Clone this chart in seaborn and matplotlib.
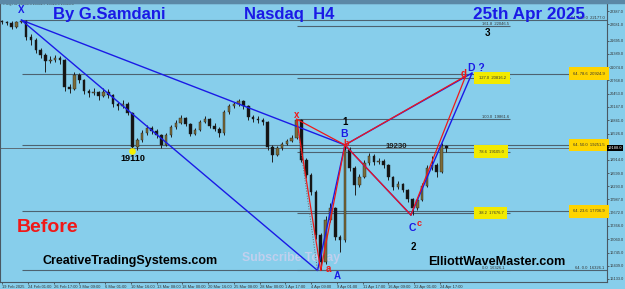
import numpy as np
import pandas as pd
import matplotlib
matplotlib.use("Agg")
import matplotlib.pyplot as plt
from matplotlib.patches import Rectangle
import seaborn as sns

# ---------------- data ----------------
bar_step = 3          # one drawn candle every 3 H4 bars
first_open = 22150
closes = [22130, 22110, 22014, 22120, 22150, 21781, 21711, 21477, 21360, 21220,
          21243, 21290, 21243, 20613, 20566, 20893, 20776, 20519, 20472, 20496,
          20402, 20496, 20426, 20215, 20169, 20215, 20005, 19211, 19374, 19538,
          19655, 19585, 19491, 19258, 19491, 19678, 19772, 19888, 19748, 19515,
          19608, 19795, 19865, 19702, 19631, 19538, 20029, 20169, 20215, 20286,
          20169, 19912, 19865, 19842, 19795, 19211, 19024, 19188, 19281, 19351,
          19421, 19842, 18907, 18557, 18160, 17155, 16525, 17506, 17786, 17109,
          17038, 19141, 18720, 18323, 18510, 18837, 19001, 18861, 18884, 18790,
          18510, 18277, 18347, 18206, 17996, 17786, 17973, 18300, 18720, 18790,
          18627, 19234, 19188]
highs = [22170, 22160, 22150, 22165, 22177, 22170, 21850, 21760, 21520, 21400,
         21330, 21360, 21340, 21260, 20680, 20960, 20950, 20800, 20560, 20580,
         20530, 20600, 20560, 20450, 20260, 20300, 20260, 20020, 19420, 19600,
         19720, 19700, 19620, 19520, 19540, 19720, 19840, 19950, 19920, 19780,
         19660, 19850, 19940, 19900, 19760, 19680, 20080, 20220, 20270, 20330,
         20300, 20190, 19960, 19930, 19880, 19820, 19260, 19240, 19330, 19400,
         19500, 19862, 19860, 18950, 18600, 18200, 17200, 17600, 17900, 17820,
         17150, 19258, 19200, 18760, 18580, 18900, 19080, 19040, 18960, 18920,
         18820, 18540, 18420, 18380, 18240, 18020, 18030, 18360, 18800, 18990,
         18830, 19300, 19260]
lows = [22090, 22060, 21960, 21990, 22100, 21700, 21600, 21400, 21300, 20970,
        21180, 21200, 21150, 20520, 20480, 20540, 20700, 20440, 20380, 20420,
        20300, 20380, 20350, 20150, 20080, 20120, 19950, 19110, 19150, 19330,
        19500, 19520, 19420, 19180, 19230, 19450, 19640, 19740, 19700, 19460,
        19480, 19580, 19760, 19650, 19580, 19450, 19500, 19990, 20130, 20180,
        20110, 19850, 19800, 19780, 19720, 19150, 18870, 18990, 19150, 19250,
        19320, 19400, 18850, 18480, 18080, 17050, 16326, 16480, 17450, 17040,
        16750, 17000, 18650, 18100, 18280, 18480, 18800, 18800, 18820, 18720,
        18450, 18200, 18240, 18150, 17930, 17622, 17750, 17940, 18270, 18680,
        18510, 18600, 19100]

x_tick_labels = ["19 Feb 2025", "24 Feb 01:00", "26 Feb 17:00", "3 Mar 09:00",
                 "6 Mar 01:00", "10 Mar 16:00", "13 Mar 08:00", "18 Mar 00:00",
                 "20 Mar 16:00", "25 Mar 08:00", "28 Mar 00:00", "1 Apr 17:00",
                 "4 Apr 09:00", "9 Apr 01:00", "11 Apr 17:00", "16 Apr 09:00",
                 "22 Apr 01:00", "24 Apr 17:00"]
bars_per_label = 16
y_tick_values = [22387, 22081, 21695, 21389, 21074, 20768, 20453, 20147, 19841,
                 19526, 18914, 18599, 18293, 17987, 17672, 17366, 17060, 16745,
                 16439, 16133]

# harmonic pattern points (bar index, price)
blue_names = ["X", "A", "B", "C", "D"]
blue_bars = [12, 196, 213, 254, 292]
blue_prices = [22177.0, 16326.1, 19258, 17622, 20939]
red_names = ["x", "a", "b", "c", "d"]
red_bars = [183, 198, 213, 254, 288]
red_prices = [19861.6, 16326.1, 19258, 17622, 20869]

left_fib_ratios = [0.0, 38.2, 78.6, 100.0, 127.0, 161.8]
left_fib_marked = [False, True, True, False, True, False]
right_fib_ratios = [0.0, 23.6, 50.0, 78.6, 100.0]
right_fib_marked = [False, True, True, True, False]

swing_low_label = "19110"
swing_low_bar, swing_low_price = 81, 19110
level_label = "19230"
level_bar, level_price = 245, 19230

# ---------------- style ----------------
sns.set_theme(style="white")
plt.rcParams["font.family"] = ["Liberation Sans", "DejaVu Sans"]
SKY = "#87ceeb"
BLUE = "#1a1ae6"
RED = "#f01818"
LINE = "#4d6270"

W, H = 625, 289
X_END = 375.8
fig = plt.figure(figsize=(W / 100, H / 100), dpi=100, facecolor=SKY)
ax = fig.add_axes([0, 1 - 282 / H, 607 / W, 279 / H], facecolor=SKY)
ax.set_xlim(-1.24, X_END)
ax.set_ylim(16057, 22575)
PT = 0.72  # points per pixel

fig.patches.append(Rectangle((0, 1 - 2.5 / H), 1, 2.5 / H, transform=fig.transFigure,
                             color="#5b88a6", zorder=0))

# ---------------- candles ----------------
c = np.array(closes, float)
o = np.array([first_open] + closes[:-1], float)
hi = np.array(highs, float)
lo = np.array(lows, float)
bars = np.arange(len(c)) * bar_step
up = c >= o
ax.vlines(bars, lo, hi, colors="#1e1e1e", lw=0.7, zorder=3)
body_lo = np.minimum(o, c)
body_h = np.maximum(np.abs(c - o), 12)
ax.bar(bars, body_h, bottom=body_lo, width=1.6,
       color=np.where(up, "#7d6c38", "#141414"), edgecolor="#1e1e1e",
       linewidth=0.3, zorder=4)

# ---------------- fib levels ----------------
def fib_levels(lo_p, hi_p, ratios):
    return [lo_p + r / 100.0 * (hi_p - lo_p) for r in ratios]

left_levels = fib_levels(red_prices[1], red_prices[0], left_fib_ratios)
right_levels = fib_levels(blue_prices[1], blue_prices[0], right_fib_ratios)

for r, p, m in zip(left_fib_ratios, left_levels, left_fib_marked):
    ax.hlines(p, 183, 315.5, color=LINE, lw=0.8, zorder=2)
    txt = f"{r:.1f}  {p:.1f}"
    if m:
        ax.text(296, p, txt, fontsize=3.0, color="#333", ha="left", va="center", zorder=6,
                bbox=dict(boxstyle="square,pad=1.0", fc="#f2ea00", ec="none"))
    else:
        ax.text(298, p, txt, fontsize=3.0, color="#333", ha="left", va="bottom", zorder=6)

for r, p, m in zip(right_fib_ratios, right_levels, right_fib_marked):
    ax.hlines(p, 12.4, X_END, color=LINE, lw=0.8, zorder=2)
    txt = f"64. {r:.1f}  {p:.1f}"
    if m:
        ax.text(X_END - 1.5, p, txt, fontsize=3.0, color="#333", ha="right", va="center",
                zorder=6, bbox=dict(boxstyle="square,pad=1.0", fc="#ffd400", ec="none"))
    else:
        ax.text(X_END - 1.5, p, txt, fontsize=3.0, color="#333", ha="right", va="bottom",
                zorder=6)

# bid line + price label
last = closes[-1]
ax.axhline(last, color="#5d6b75", lw=0.7, zorder=2)
ax.annotate(f"{last:.1f}", xy=(1, last), xycoords=("axes fraction", "data"),
            xytext=(0.8, 0), textcoords="offset points", ha="left", va="center",
            fontsize=2.9, color="white", annotation_clip=False, zorder=8,
            bbox=dict(boxstyle="square,pad=0.2", fc="black", ec="none"))

# ---------------- pattern lines ----------------
def segments(bars_, prices_, pairs):
    rows = []
    for s, (i, j) in enumerate(pairs):
        rows.append((s, 0, bars_[i], prices_[i]))
        rows.append((s, 1, bars_[j], prices_[j]))
    return pd.DataFrame(rows, columns=["seg", "k", "bar", "price"])

pairs = [(0, 1), (1, 2), (2, 3), (3, 4), (0, 2), (2, 4)]
sns.lineplot(data=segments(blue_bars, blue_prices, pairs), x="bar", y="price",
             units="seg", estimator=None, sort=False, color=BLUE, lw=1.0, ax=ax, zorder=5)
sns.lineplot(data=segments(red_bars, red_prices, pairs), x="bar", y="price",
             units="seg", estimator=None, sort=False, color=RED, lw=0.9, ax=ax, zorder=6)
ax.plot([red_bars[0], blue_bars[1]], [red_prices[0], blue_prices[1]], ls=":",
        color="#666", lw=0.7, zorder=5)
ax.set_xlabel("")
ax.set_ylabel("")

# ---------------- labels on points ----------------
def note(text, bx, py, dx, dy, color, size, weight="bold"):
    ax.annotate(text, (bx, py), xytext=(dx * PT, dy * PT), textcoords="offset points",
                ha="center", va="center", color=color, fontsize=size,
                fontweight=weight, zorder=9, annotation_clip=False)

note("X", blue_bars[0], blue_prices[0], 0, 10, BLUE, 7)
note("A", blue_bars[1], blue_prices[1], 20, -6, BLUE, 7)
note("B", blue_bars[2], blue_prices[2], -1, 11, BLUE, 7.5)
note("C", blue_bars[3], blue_prices[3], 1, -13, BLUE, 7.5)
note("D ?", blue_bars[4], blue_prices[4], 4, 5, BLUE, 7.5)
note("x", red_bars[0], red_prices[0], 0, 4, RED, 7)
note("a", red_bars[1], red_prices[1], 8, 1, RED, 7)
note("b", red_bars[2], red_prices[2], 1, 1, RED, 6.5)
note("c", red_bars[3], red_prices[3], 8, -8, RED, 6.5)
note("d", red_bars[4], red_prices[4], -2, 2, RED, 7)
note("1", blue_bars[2], blue_prices[2], 0, 23, "black", 7)
note("2", blue_bars[3], blue_prices[3], 2, -32, "black", 7)
note("3", blue_bars[4], blue_prices[4], 15, 40, "black", 7)

ax.scatter([swing_low_bar], [swing_low_price], s=14, color="#f5f000", zorder=9)
note(swing_low_label, swing_low_bar, swing_low_price, 0, -7, "black", 6.5)
ax.text(level_bar, level_price, level_label, fontsize=5.6, fontweight="bold",
        color="#222", ha="center", va="center", zorder=9)

# ---------------- axes ----------------
ax.yaxis.tick_right()
ax.set_yticks(y_tick_values)
ax.set_yticklabels([f"{v:.1f}" for v in y_tick_values])
ax.set_xticks(np.arange(len(x_tick_labels)) * bars_per_label)
ax.set_xticklabels(x_tick_labels)
for t in ax.get_xticklabels():
    t.set_ha("left")
ax.tick_params(axis="y", right=True, left=False, labelsize=2.8, length=1.5, pad=0.6,
               colors="#333", width=0.5)
ax.tick_params(axis="x", bottom=True, labelsize=2.9, length=1.5, pad=0.6,
               colors="#333", width=0.5)
for s in ax.spines.values():
    s.set_color("#4a5863")
    s.set_linewidth(0.8)

# ---------------- titles and captions ----------------
def ftext(s, px, py, size, color, z=10, alpha=1.0):
    ax.text(px / W, 1 - py / H, s, transform=fig.transFigure, fontsize=size,
            fontweight="bold", color=color, ha="center", va="center", zorder=z, alpha=alpha)

ax.text(3 / W, 1 - 4.5 / H, "▾ NQ,H4  19530.5 19591.7 19520.9 19563.8",
        transform=fig.transFigure, fontsize=2.6, color="#333", ha="left", va="center")
ftext("By G.Samdani", 109, 15, 12, BLUE)
ftext("Nasdaq  H4", 289.5, 15, 12, BLUE)
ftext("25th Apr 2025", 529, 14.5, 12.3, BLUE)
ftext("Before", 48, 228, 14, RED)
ftext("CreativeTradingSystems.com", 130, 261, 9, "black")
ftext("ElliottWaveMaster.com", 497, 262, 9.1, "black")
ftext("Subscribe Today", 291, 257.5, 8.8, "#cfd0ee", z=1, alpha=0.8)

fig.savefig("out.png", dpi=100, facecolor=SKY)
